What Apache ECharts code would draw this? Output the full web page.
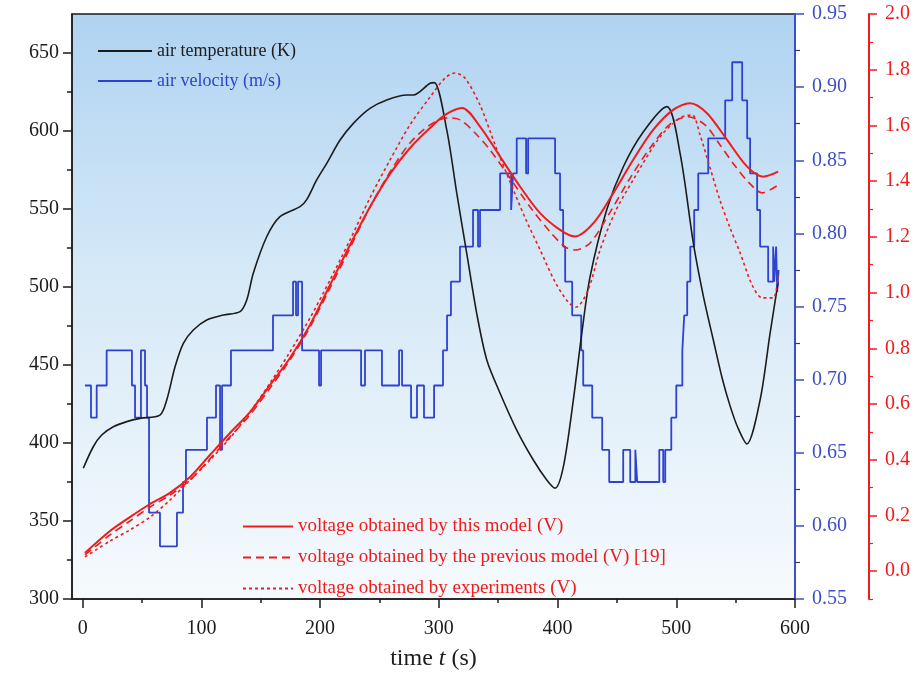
<!DOCTYPE html>
<html>
<head>
<meta charset="utf-8">
<script src="https://cdn.jsdelivr.net/npm/echarts@6/dist/echarts.min.js"></script>
<style>
  html, body { margin: 0; padding: 0; background: #ffffff; }
  #chart { width: 922px; height: 676px; }
</style>
</head>
<body>
<div id="chart"></div>
<script>
// Air temperature (K) versus time (s)
const tempTime = [0.5, 8.9, 16.0, 25.8, 37.1, 48.3, 65.1, 70.8, 77.8, 84.8, 93.2, 104.5, 118.5, 132.5, 138.2, 143.7, 155.0, 166.2, 183.1, 188.7, 197.1, 205.6, 216.8, 228.0, 242.0, 256.1, 273.0, 278.5, 292.6, 296.2, 306.7, 315.1, 323.5, 331.9, 340.4, 351.6, 365.6, 379.6, 390.9, 397.9, 404.9, 413.3, 420.4, 427.4, 441.4, 455.4, 472.3, 492.0, 503.2, 514.4, 522.8, 531.2, 538.6, 545.3, 552.0, 559.4, 570.6, 579.0, 585.8];
const tempValue = [383.8, 397.6, 405.1, 410.4, 413.7, 415.8, 417.9, 427.6, 448.9, 463.9, 472.4, 478.8, 482.0, 484.2, 491.7, 508.8, 532.2, 545.1, 551.5, 556.0, 568.6, 579.3, 594.2, 604.9, 614.5, 619.9, 623.1, 623.1, 630.6, 631.0, 600.6, 560.1, 521.6, 483.1, 453.2, 431.9, 408.3, 389.1, 376.3, 371.0, 384.8, 427.6, 470.3, 506.6, 549.5, 577.1, 599.5, 615.6, 585.7, 528.0, 494.2, 466.0, 441.7, 423.8, 409.6, 399.4, 427.6, 470.3, 503.2];

// Air velocity (m/s): each value holds from its time until the next one
const velTime = [1.9, 7.0, 11.8, 20.2, 41.5, 44.1, 49.1, 52.5, 54.2, 55.9, 65.1, 79.4, 84.5, 87.0, 104.7, 112.3, 115.7, 117.4, 124.9, 160.3, 177.2, 179.7, 181.4, 184.8, 199.1, 200.8, 234.5, 237.8, 252.1, 266.5, 269.0, 276.6, 281.6, 287.5, 296.0, 303.5, 306.9, 310.2, 317.8, 328.8, 333.0, 334.7, 351.6, 360.9, 362.5, 365.6, 373.5, 375.2, 397.9, 402.1, 404.7, 406.4, 412.3, 419.9, 421.6, 429.2, 437.6, 443.5, 455.3, 461.2, 465.5, 467.1, 485.7, 489.0, 490.7, 495.8, 500.0, 505.1, 506.7, 509.2, 511.8, 515.1, 518.5, 526.9, 541.2, 547.1, 555.5, 559.7, 562.2, 568.1, 570.6, 577.4, 581.6, 582.5, 584.1, 585.0, 586.2];
const velValue = [0.696, 0.674, 0.696, 0.720, 0.696, 0.674, 0.720, 0.696, 0.674, 0.609, 0.586, 0.609, 0.630, 0.652, 0.674, 0.696, 0.652, 0.696, 0.720, 0.744, 0.767, 0.744, 0.767, 0.720, 0.696, 0.720, 0.696, 0.720, 0.696, 0.720, 0.696, 0.674, 0.696, 0.674, 0.696, 0.720, 0.744, 0.767, 0.791, 0.816, 0.791, 0.816, 0.841, 0.816, 0.841, 0.865, 0.841, 0.865, 0.841, 0.816, 0.791, 0.767, 0.744, 0.720, 0.696, 0.674, 0.652, 0.630, 0.652, 0.630, 0.652, 0.630, 0.652, 0.630, 0.652, 0.674, 0.696, 0.720, 0.744, 0.767, 0.791, 0.816, 0.841, 0.865, 0.891, 0.917, 0.891, 0.865, 0.841, 0.816, 0.791, 0.767, 0.791, 0.767, 0.791, 0.760, 0.775];

// Voltage (V) from this model
const modelTime = [1.9, 23.0, 39.8, 56.7, 73.5, 90.4, 107.2, 124.1, 140.9, 157.8, 174.6, 191.5, 208.3, 225.2, 242.0, 258.9, 275.7, 292.6, 305.2, 319.5, 334.7, 351.6, 368.5, 385.3, 402.1, 414.7, 430.2, 446.8, 463.6, 480.5, 497.3, 511.6, 525.9, 542.8, 559.7, 573.2, 585.8];
const modelVolt = [0.065, 0.144, 0.194, 0.241, 0.281, 0.338, 0.417, 0.496, 0.571, 0.668, 0.765, 0.884, 1.027, 1.171, 1.307, 1.426, 1.519, 1.591, 1.638, 1.663, 1.596, 1.488, 1.380, 1.285, 1.225, 1.201, 1.249, 1.356, 1.476, 1.584, 1.656, 1.680, 1.644, 1.548, 1.452, 1.416, 1.434];

// Voltage (V) from the previous model [19]
const prevTime = [1.9, 23.0, 39.8, 56.7, 73.5, 90.4, 107.2, 124.1, 140.9, 157.8, 174.6, 191.5, 208.3, 225.2, 242.0, 258.9, 275.7, 292.6, 306.9, 317.9, 330.5, 343.1, 360.0, 376.9, 393.7, 406.4, 414.7, 427.4, 444.3, 461.1, 477.9, 494.8, 509.9, 524.2, 536.9, 549.6, 562.2, 572.3, 585.8];
const prevVolt = [0.058, 0.130, 0.180, 0.230, 0.273, 0.327, 0.403, 0.482, 0.561, 0.657, 0.758, 0.876, 1.016, 1.160, 1.307, 1.433, 1.537, 1.602, 1.627, 1.620, 1.573, 1.512, 1.411, 1.307, 1.218, 1.164, 1.153, 1.178, 1.289, 1.411, 1.519, 1.605, 1.631, 1.602, 1.530, 1.454, 1.390, 1.358, 1.386];

// Voltage (V) measured in experiments
const expTime = [1.9, 23.0, 39.8, 56.7, 73.5, 90.4, 107.2, 124.1, 140.9, 157.8, 174.6, 191.5, 208.3, 225.2, 242.0, 258.9, 275.7, 292.6, 305.2, 313.6, 322.0, 334.7, 347.4, 360.0, 372.7, 385.3, 397.9, 408.9, 415.6, 425.7, 435.8, 448.5, 463.6, 486.4, 503.2, 513.3, 520.0, 528.5, 536.9, 545.3, 553.8, 563.9, 572.3, 581.6, 585.8];
const expVolt = [0.051, 0.108, 0.148, 0.194, 0.255, 0.327, 0.399, 0.478, 0.571, 0.675, 0.787, 0.909, 1.045, 1.189, 1.340, 1.476, 1.602, 1.702, 1.770, 1.788, 1.770, 1.673, 1.530, 1.397, 1.268, 1.153, 1.038, 0.966, 0.948, 1.009, 1.153, 1.289, 1.404, 1.559, 1.627, 1.638, 1.566, 1.447, 1.330, 1.232, 1.142, 1.027, 0.981, 0.981, 1.063];

// Tick positions
const timeTicks = [0, 100, 200, 300, 400, 500, 600];
const timeMinorTicks = [50, 150, 250, 350, 450, 550];
const tempTicks = [300, 350, 400, 450, 500, 550, 600, 650];
const tempMinorTicks = [325, 375, 425, 475, 525, 575, 625];
const voltTicks = [0.0, 0.2, 0.4, 0.6, 0.8, 1.0, 1.2, 1.4, 1.6, 1.8, 2.0];
const voltMinorTicks = [-0.1, 0.1, 0.3, 0.5, 0.7, 0.9, 1.1, 1.3, 1.5, 1.7, 1.9];

const SERIF = '"Liberation Serif", "Times New Roman", serif';
const INK = '#1c1c1c';
const BLUE = '#2f42cf';
const BLUE_AXIS = '#3d4fc6';
const RED = '#ee1c1c';

function pairs(xs, ys) { return xs.map((x, i) => [x, ys[i]]); }

const chart = echarts.init(document.getElementById('chart'), null, { renderer: 'canvas' });

const plotFill = new echarts.graphic.LinearGradient(0, 0, 0, 1, [
  { offset: 0, color: '#afd3f1' },
  { offset: 0.45, color: '#d6e9f7' },
  { offset: 1, color: '#f6fafd' }
]);

// Legend samples show the line only, without a marker
const legendNoMarker = { opacity: 0, color: 'transparent', borderWidth: 0 };

const option = {
  animation: false,
  backgroundColor: '#ffffff',
  grid: {
    left: 72, right: 127, top: 14, bottom: 77,
    show: true, borderColor: INK, borderWidth: 1.5,
    backgroundColor: plotFill
  },
  legend: [
    {
      orient: 'vertical', left: 92, top: 37,
      itemWidth: 54, itemHeight: 14, itemGap: 12,
      selectedMode: false,
      itemStyle: legendNoMarker,
      textStyle: { fontFamily: SERIF, fontSize: 18 },
      data: [
        { name: 'air temperature (K)', textStyle: { color: INK } },
        { name: 'air velocity (m/s)', textStyle: { color: BLUE } }
      ]
    },
    {
      orient: 'vertical', left: 237, top: 512,
      itemWidth: 50, itemHeight: 14, itemGap: 12,
      selectedMode: false,
      itemStyle: legendNoMarker,
      textStyle: { fontFamily: SERIF, fontSize: 19, color: RED },
      data: [
        'voltage obtained by this model (V)',
        'voltage obtained by the previous model (V) [19]',
        'voltage obtained by experiments (V)'
      ]
    }
  ],
  xAxis: [
    {
      type: 'value', min: -9, max: 600,
      axisLine: { onZero: false, lineStyle: { color: INK, width: 1.5 } },
      axisTick: { customValues: timeTicks, length: 9, inside: false, lineStyle: { color: INK, width: 1.5 } },
      axisLabel: { customValues: timeTicks, margin: 20, fontFamily: SERIF, fontSize: 20, color: INK },
      splitLine: { show: false },
      name: 'time {i|t} (s)',
      nameLocation: 'middle', nameGap: 48,
      nameTextStyle: {
        fontFamily: SERIF, fontSize: 24, color: INK,
        rich: { i: { fontFamily: SERIF, fontSize: 24, fontStyle: 'italic', color: INK } }
      }
    },
    {
      type: 'value', min: -9, max: 600, position: 'bottom',
      axisLine: { show: false, onZero: false },
      axisTick: { customValues: timeMinorTicks, length: 4, lineStyle: { color: INK, width: 1.5 } },
      axisLabel: { show: false },
      splitLine: { show: false }
    }
  ],
  yAxis: [
    {
      type: 'value', min: 300, max: 675, position: 'left',
      axisLine: { show: true, onZero: false, lineStyle: { color: INK, width: 1.5 } },
      axisTick: { customValues: tempTicks, length: 9, lineStyle: { color: INK, width: 1.5 } },
      axisLabel: { customValues: tempTicks, margin: 13, fontFamily: SERIF, fontSize: 20, color: INK },
      splitLine: { show: false }
    },
    {
      type: 'value', min: 0.55, max: 0.95, interval: 0.05, position: 'right',
      axisLine: { show: true, onZero: false, lineStyle: { color: BLUE_AXIS, width: 2 } },
      axisTick: { show: true, length: 9, lineStyle: { color: BLUE_AXIS, width: 1.5 } },
      minorTick: { show: true, splitNumber: 2, length: 5, lineStyle: { color: '#333a66', width: 1.2 } },
      axisLabel: { margin: 17, fontFamily: SERIF, fontSize: 20, color: BLUE_AXIS, formatter: v => v.toFixed(2) },
      splitLine: { show: false },
      minorSplitLine: { show: false }
    },
    {
      type: 'value', min: -0.1, max: 2.0, position: 'right', offset: 74,
      axisLine: { show: true, onZero: false, lineStyle: { color: RED, width: 2 } },
      axisTick: { customValues: voltTicks, length: 8, lineStyle: { color: RED, width: 1.5 } },
      axisLabel: { customValues: voltTicks, margin: 16, fontFamily: SERIF, fontSize: 20, color: RED, formatter: v => v.toFixed(1) },
      splitLine: { show: false }
    },
    {
      type: 'value', min: 300, max: 675, position: 'left',
      axisLine: { show: false, onZero: false },
      axisTick: { customValues: tempMinorTicks, length: 5, lineStyle: { color: INK, width: 1.5 } },
      axisLabel: { show: false },
      splitLine: { show: false }
    },
    {
      type: 'value', min: -0.1, max: 2.0, position: 'right', offset: 74,
      axisLine: { show: false, onZero: false },
      axisTick: { customValues: voltMinorTicks, length: 4, lineStyle: { color: RED, width: 1.2 } },
      axisLabel: { show: false },
      splitLine: { show: false }
    }
  ],
  series: [
    {
      name: 'air temperature (K)', type: 'line', xAxisIndex: 0, yAxisIndex: 0,
      data: pairs(tempTime, tempValue), symbol: 'none', smooth: 0.3,
      lineStyle: { color: INK, width: 1.6 }, itemStyle: { color: INK }, z: 3
    },
    {
      name: 'air velocity (m/s)', type: 'line', xAxisIndex: 0, yAxisIndex: 1,
      data: pairs(velTime, velValue), symbol: 'none', step: 'end',
      lineStyle: { color: BLUE, width: 1.8 }, itemStyle: { color: BLUE }, z: 2
    },
    {
      name: 'voltage obtained by this model (V)', type: 'line', xAxisIndex: 0, yAxisIndex: 2,
      data: pairs(modelTime, modelVolt), symbol: 'none', smooth: 0.3,
      lineStyle: { color: RED, width: 2 }, itemStyle: { color: RED }, z: 4
    },
    {
      name: 'voltage obtained by the previous model (V) [19]', type: 'line', xAxisIndex: 0, yAxisIndex: 2,
      data: pairs(prevTime, prevVolt), symbol: 'none', smooth: 0.3,
      lineStyle: { color: RED, width: 1.6, type: [8, 5] }, itemStyle: { color: RED }, z: 4
    },
    {
      name: 'voltage obtained by experiments (V)', type: 'line', xAxisIndex: 0, yAxisIndex: 2,
      data: pairs(expTime, expVolt), symbol: 'none', smooth: 0.3,
      lineStyle: { color: RED, width: 1.6, type: [3, 3] }, itemStyle: { color: RED }, z: 4
    }
  ]
};

chart.setOption(option);
</script>
</body>
</html>
